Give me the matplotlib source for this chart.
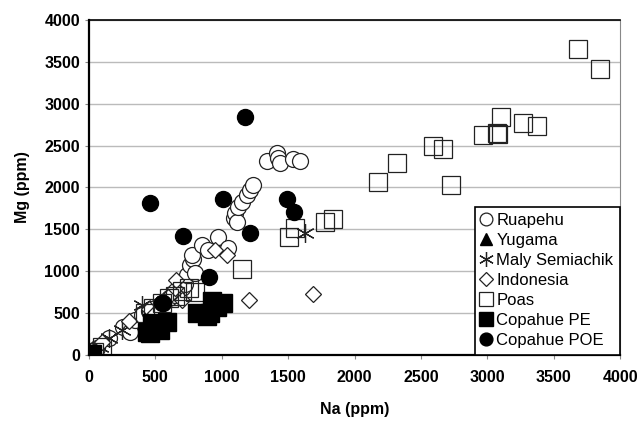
import matplotlib
matplotlib.use("Agg")
import matplotlib.pyplot as plt

plt.rcParams['font.family'] = ['Liberation Sans Narrow', 'Liberation Sans', 'DejaVu Sans']

# Data (Na ppm, Mg ppm)
ruapehu_na = [60, 150, 260, 309, 350, 400, 450, 500, 550, 600, 650, 700, 720, 738, 760,
              780, 776, 800, 851, 900, 972, 1047, 1090, 1100, 1115, 1122, 1152, 1190, 1213,
              1235, 1341, 1416, 1424, 1439, 1537, 1589]
ruapehu_mg = [80, 200, 330, 275, 420, 480, 520, 560, 620, 680, 720, 800, 850, 955, 1075,
              1150, 1194, 980, 1313, 1250, 1409, 1277, 1640, 1695, 1588, 1767, 1827, 1910,
              1970, 2030, 2316, 2411, 2352, 2292, 2340, 2316]

yugama_na = [5, 15, 30]
yugama_mg = [10, 25, 40]

maly_na = [30, 80, 150, 250, 400, 1627]
maly_mg = [50, 100, 200, 300, 600, 1457]

indonesia_na = [30, 100, 300, 450, 500, 600, 650, 655, 700, 949, 1040, 1205, 1687]
indonesia_mg = [40, 150, 400, 550, 500, 700, 800, 895, 650, 1254, 1194, 657, 728]

poas_na = [40, 100, 420, 480, 550, 600, 650, 700, 750, 800, 1152, 1507, 1552, 1778, 1838,
           2177, 2320, 2591, 2667, 2727, 2968, 3073, 3080, 3104, 3270, 3375, 3684, 3849]
poas_mg = [40, 100, 500, 560, 620, 680, 700, 760, 800, 750, 1027, 1409, 1516, 1588, 1624,
           2066, 2293, 2495, 2460, 2030, 2627, 2650, 2640, 2842, 2770, 2734, 3654, 3415]

cop_pe_na = [20, 437, 460, 475, 535, 587, 813, 890, 911, 930, 964, 1009]
cop_pe_mg = [15, 275, 263, 382, 299, 394, 501, 466, 501, 640, 573, 620]

cop_poe_na = [460, 550, 557, 708, 904, 1009, 1175, 1213, 1492, 1544]
cop_poe_mg = [1815, 620, 621, 1421, 931, 1863, 2842, 1457, 1863, 1707]

ticks = [0, 500, 1000, 1500, 2000, 2500, 3000, 3500, 4000]

fig = plt.figure(figsize=(6.4, 4.24), dpi=100)
ax = fig.add_axes([0.139, 0.163, 0.830, 0.790])

ec = '#222222'
ms = 11.5
ax.plot(ruapehu_na, ruapehu_mg, 'o', ms=ms, mfc='white', mec=ec, mew=0.9, label='Ruapehu')
ax.plot(yugama_na, yugama_mg, '^', ms=ms, mfc='black', mec='black', label='Yugama')
ax.plot(maly_na, maly_mg, ls='none', marker=(6, 2, 0), ms=ms + 2, mec=ec, mew=0.9,
        label='Maly Semiachik')
ax.plot(indonesia_na, indonesia_mg, 'D', ms=ms - 3, mfc='white', mec=ec, mew=0.9,
        label='Indonesia')
ax.plot(poas_na, poas_mg, 's', ms=ms + 1, mfc='none', mec=ec, mew=0.9, label='Poas')
ax.plot(cop_pe_na, cop_pe_mg, 's', ms=ms + 1, mfc='black', mec='black', label='Copahue PE')
ax.plot(cop_poe_na, cop_poe_mg, 'o', ms=ms, mfc='black', mec='black', label='Copahue POE')

ax.set_xlim(0, 4000)
ax.set_ylim(0, 4000)
ax.set_xticks(ticks)
ax.set_yticks(ticks)
ax.tick_params(labelsize=11.5, length=3, width=0.8, color='#888888')
ax.tick_params(axis='x', pad=8)
for lab in ax.get_xticklabels() + ax.get_yticklabels():
    lab.set_fontweight('bold')
ax.yaxis.grid(True, color='#bbbbbb', lw=1)
ax.set_axisbelow(True)
for side in ['left', 'bottom']:
    ax.spines[side].set_linewidth(1.6)
ax.spines['top'].set_linewidth(1.2)
ax.spines['right'].set_color('#888888')

ax.set_xlabel('Na (ppm)', fontsize=11.5, fontweight='bold', labelpad=12)
ax.set_ylabel('Mg (ppm)', fontsize=11.5, fontweight='bold', labelpad=10)

leg = ax.legend(loc='lower right', borderaxespad=0, fontsize=12, markerscale=0.8,
                handlelength=0.6, handletextpad=0.3, labelspacing=0.3,
                borderpad=0.4, fancybox=False, framealpha=1, edgecolor='black')
leg.get_frame().set_linewidth(1.2)

fig.savefig('out.png', dpi=100)
